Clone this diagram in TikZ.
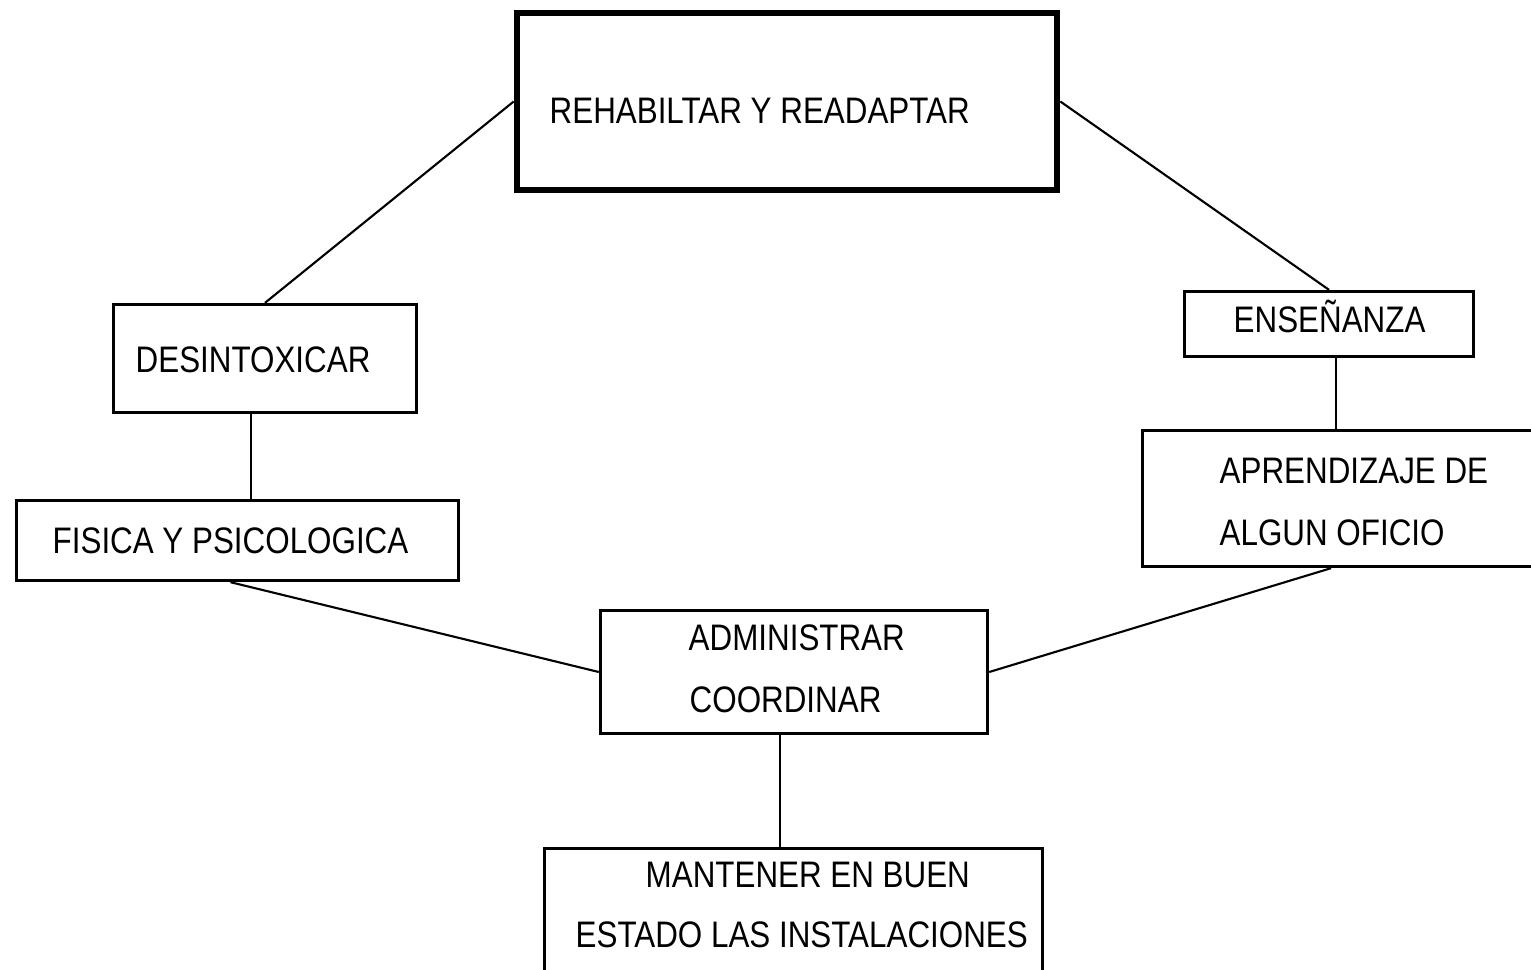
\documentclass[tikz,border=0pt]{standalone}
\usepackage{fontspec}
\setmainfont{Liberation Sans}[FakeStretch=0.85]
\usepackage{tikz}
\tikzset{
  caja/.style={draw, line width=0.95pt, inner sep=0pt},
  texto/.style={anchor=base west, inner sep=0pt, font=\fontsize{10.5}{12}\selectfont},
  enlace/.style={line width=0.6pt}
}

\begin{document}
\begin{tikzpicture}%
\useasboundingbox (0,0) rectangle (15.31,-9.69);%
\clip (0,0) rectangle (15.31,-9.69);%
% cajas
\node[caja, line width=1.9pt, minimum width=5.40cm, minimum height=1.77cm] (rehab) at (7.87,-1.015) {};%
\node[caja, minimum width=3.03cm, minimum height=1.08cm] (desin) at (2.65,-3.585) {};%
\node[caja, minimum width=4.42cm, minimum height=0.80cm] (fis) at (2.375,-5.405) {};%
\node[caja, minimum width=2.89cm, minimum height=0.65cm] (ensen) at (13.29,-3.24) {};%
\node[caja, minimum width=4.03cm, minimum height=1.36cm] (aprend) at (13.44,-4.985) {};%
\node[caja, minimum width=3.87cm, minimum height=1.23cm] (admin) at (7.94,-6.72) {};%
\node[caja, minimum width=4.98cm, minimum height=1.40cm] (manten) at (7.935,-9.185) {};%
% textos
\node[texto] (trehab) at (5.49,-1.23) {REHABILTAR Y READAPTAR};%
\node[texto] (tdesin) at (1.35,-3.72) {DESINTOXICAR};%
\node[texto] (tfis) at (0.52,-5.53) {FISICA Y PSICOLOGICA};%
\node[texto] (tensen) at (12.33,-3.32) {ENSEÑANZA};%
\node[texto] (taprend) at (12.19,-4.83) {APRENDIZAJE DE};%
\node[texto] (talgun) at (12.19,-5.45) {ALGUN OFICIO};%
\node[texto] (tadmin) at (6.88,-6.50) {ADMINISTRAR};%
\node[texto] (tcoord) at (6.89,-7.12) {COORDINAR};%
\node[texto] (tmanten) at (6.45,-8.87) {MANTENER EN BUEN};%
\node[texto] (testado) at (5.75,-9.47) {ESTADO LAS INSTALACIONES};%
% enlaces
\draw[enlace] (rehab.west) -- (desin.north);%
\draw[enlace] (rehab.east) -- (ensen.north);%
\draw[enlace] ([xshift=-0.14cm]desin.south) -- ([xshift=-0.14cm]desin.south |- fis.north);%
\draw[enlace] ([xshift=-0.07cm]fis.south) -- (admin.west);%
\draw[enlace] ([xshift=0.07cm]ensen.south) -- ([xshift=0.07cm]ensen.south |- aprend.north);%
\draw[enlace] ([xshift=-0.13cm]aprend.south) -- (admin.east);%
\draw[enlace] ([xshift=-0.14cm]admin.south) -- ([xshift=-0.14cm]admin.south |- manten.north);%
\end{tikzpicture}
\end{document}
